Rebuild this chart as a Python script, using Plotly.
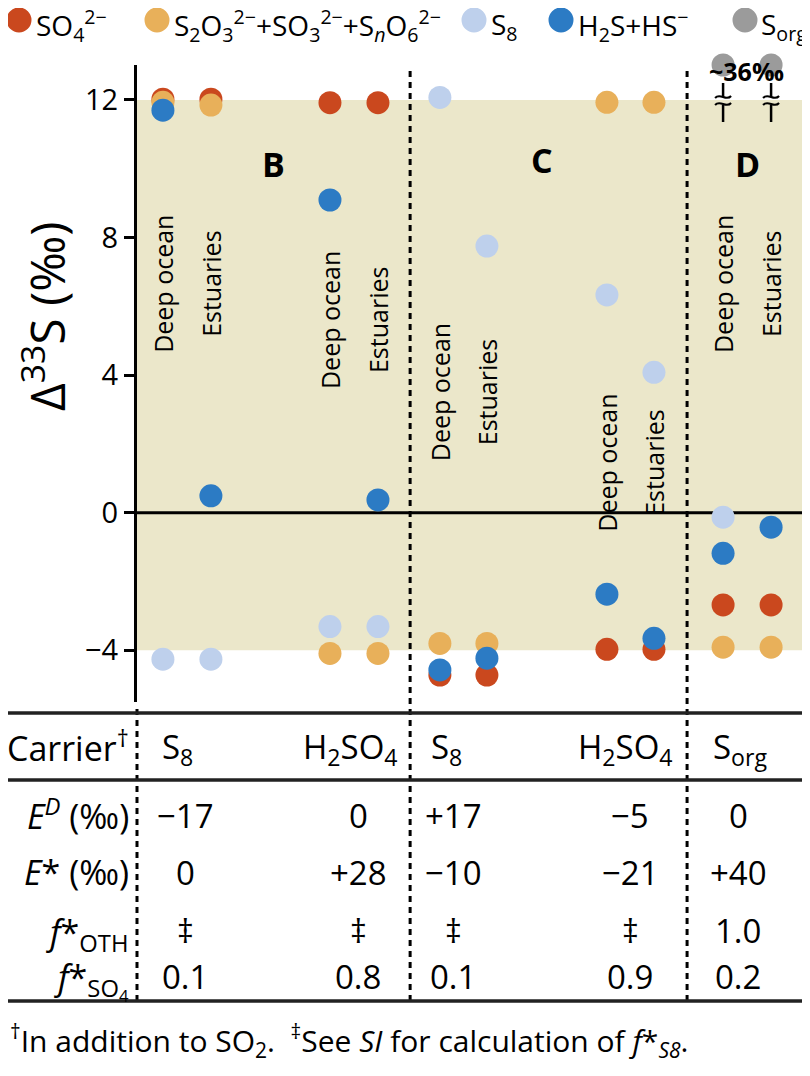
import plotly.graph_objects as go

# ---------------- data ----------------
species = ["SO4", "THIO", "S8", "H2S", "SORG"]
legend_labels = [
    "SO<sub>4</sub><sup>2−</sup>",
    "S<sub>2</sub>O<sub>3</sub><sup>2−</sup>+SO<sub>3</sub><sup>2−</sup>+S<sub><i>n</i></sub>O<sub>6</sub><sup>2−</sup>",
    "S<sub>8</sub>",
    "H<sub>2</sub>S+HS<sup>−</sup>",
    "S<sub>org</sub>",
]
colors = ["#CA481E", "#E8B05A", "#BED0EC", "#2C7BC4", "#9B9B9B"]

# site positions (x units) : pairs of Deep ocean / Estuaries for each scenario
site_x = [0.54, 1.54, 4.02, 5.02, 6.31, 7.29, 9.79, 10.77, 12.21, 13.21]
site_names = ["Deep ocean", "Estuaries"] * 5
site_label_y = [6.65, 6.65, 5.6, 5.6, 3.5, 3.5, 1.45, 1.45, 6.65, 6.65]

so4 = [12.02, 12.02, 11.92, 11.92, -4.72, -4.72, -3.97, -3.97, -2.68, -2.68]
thio = [11.93, 11.85, -4.09, -4.09, -3.80, -3.80, 11.93, 11.93, -3.91, -3.91]
s8 = [-4.26, -4.26, -3.31, -3.31, 12.07, 7.75, 6.33, 4.08, -0.13, None]
h2s = [11.70, 0.49, 9.09, 0.37, -4.57, -4.23, -2.37, -3.65, -1.18, -0.42]
sorg = [None] * 8 + [36, 36]
series = [so4, thio, s8, h2s, sorg]

panel_letters = ["B", "C", "D"]
panel_x = [2.85, 8.44, 12.71]
panel_y = [10.15, 10.25, 10.15]
divider_x = [5.69, 11.46]
shade_range = [-4, 12]

# table
carriers = ["S<sub>8</sub>", "H<sub>2</sub>SO<sub>4</sub>", "S<sub>8</sub>",
            "H<sub>2</sub>SO<sub>4</sub>", "S<sub>org</sub>"]
e_d = ["−17", "0", "+17", "−5", "0"]
e_star = ["0", "+28", "−10", "−21", "+40"]
f_oth = ["‡", "‡", "‡", "‡", "1.0"]
f_so4 = ["0.1", "0.8", "0.1", "0.9", "0.2"]
row_labels = ["Carrier<sup>†</sup>", "<i>E</i><sup><i>D</i></sup> (‰)", "<i>E</i>* (‰)",
              "<i>f</i>*<sub>OTH</sub>", "<i>f</i>*<sub>SO<sub>4</sub></sub>"]
footnote = ("<sup>†</sup>In addition to SO<sub>2</sub>.  <sup>‡</sup>See <i>SI</i> for "
            "calculation of <i>f</i>*<sub><i>S8</i></sub>.")

# ---------------- geometry helpers (screenshot pixel targets) ----------------
OFF = 8                           # page body margin
SW = 810                          # screenshot width
W, H = SW - OFF, 1068
L, T, B = 137, 65, 702            # plot area in screenshot pixels
PXU = 48.0                        # pixels per x unit
XMAX = (SW - L) / PXU
Y0PX, PX_PER_Y = 512.7, 34.4
YMIN = (Y0PX - B) / PX_PER_Y
YMAX = (Y0PX - T) / PX_PER_Y
FONT = "Open Sans, DejaVu Sans, sans-serif"


def pxx(p):   # screenshot pixel x -> paper x
    return (p - L) / (SW - L)


def pxy(p):   # screenshot pixel y -> paper y
    return (B - p) / (B - T)


def datx(x):  # data x -> paper x
    return x / XMAX


def ann(x, y, text, size, xanchor="center", yanchor="middle", angle=0,
        xref="paper", yref="paper"):
    return dict(x=x, y=y, xref=xref, yref=yref, text=text, showarrow=False,
                xanchor=xanchor, yanchor=yanchor, textangle=angle,
                font=dict(family=FONT, size=size, color="black"))


fig = go.Figure()

# points
for name, vals, col in zip(species, series, colors):
    ys = [None if v is None else min(v, YMAX) for v in vals]
    fig.add_trace(go.Scatter(x=site_x, y=ys, mode="markers", name=name,
                             marker=dict(size=23, color=col, line=dict(width=0)),
                             cliponaxis=False, showlegend=False, hoverinfo="skip"))

shapes = []
# shaded band
shapes.append(dict(type="rect", xref="paper", yref="y", x0=0, x1=1,
                   y0=shade_range[0], y1=shade_range[1],
                   fillcolor="#EBE7CA", line=dict(width=0), layer="below"))
# zero line
shapes.append(dict(type="line", xref="paper", yref="y", x0=0, x1=1, y0=0, y1=0,
                   line=dict(color="black", width=3), layer="below"))
# dashed dividers through the plot and table
for dx in divider_x:
    shapes.append(dict(type="line", xref="paper", yref="paper", x0=datx(dx), x1=datx(dx),
                       y0=pxy(1001), y1=pxy(68),
                       line=dict(color="black", width=3, dash="6px,5px")))
# dashed continuation of y axis in table
shapes.append(dict(type="line", xref="paper", yref="paper", x0=0, x1=0,
                   y0=pxy(1001), y1=pxy(708),
                   line=dict(color="black", width=3, dash="6px,5px")))
# table rules
for yy in [713, 780, 1001]:
    shapes.append(dict(type="line", xref="paper", yref="paper", x0=pxx(OFF), x1=1,
                       y0=pxy(yy), y1=pxy(yy), line=dict(color="#222", width=3.5)))

# axis break marks for S_org
for i, v in enumerate(sorg):
    if v is None:
        continue
    cx = L + site_x[i] * PXU
    shapes.append(dict(type="line", xref="paper", yref="paper", x0=pxx(cx), x1=pxx(cx),
                       y0=pxy(83), y1=pxy(97), line=dict(color="black", width=2.5)))
    shapes.append(dict(type="line", xref="paper", yref="paper", x0=pxx(cx), x1=pxx(cx),
                       y0=pxy(105), y1=pxy(122), line=dict(color="black", width=2.5)))
    for wy in [97, 104]:
        path = "M {},{} C {},{} {},{} {},{}".format(
            pxx(cx - 8), pxy(wy + 1), pxx(cx - 3), pxy(wy - 5),
            pxx(cx + 3), pxy(wy + 5), pxx(cx + 8), pxy(wy - 1))
        shapes.append(dict(type="path", xref="paper", yref="paper", path=path,
                           line=dict(color="black", width=2)))

annotations = []
# "~36‰" label
annotations.append(ann(pxx(746), pxy(71), "<b>~36‰</b>", 25))
# site labels
for x, nm, ly in zip(site_x, site_names, site_label_y):
    annotations.append(ann(x, ly, nm, 25, angle=-90, xref="x", yref="y"))
# panel letters
for t, x, y in zip(panel_letters, panel_x, panel_y):
    annotations.append(ann(x, y, "<b>" + t + "</b>", 34, xref="x", yref="y"))
# y-axis title
annotations.append(ann(pxx(44), pxy(316), "Δ<sup>33</sup>S (‰)", 48, angle=-90))

# legend (custom)
leg_cx = [19, 157, 474, 561, 745]
leg_tx = [34, 172, 489, 576, 759]
for cx, tx, lab, col in zip(leg_cx, leg_tx, legend_labels, colors):
    r = 12.5
    shapes.append(dict(type="circle", xref="paper", yref="paper",
                       x0=pxx(cx - r), x1=pxx(cx + r), y0=pxy(20 + r), y1=pxy(20 - r),
                       fillcolor=col, line=dict(width=0)))
    annotations.append(ann(pxx(tx), pxy(26), lab, 28, xanchor="left"))

# table
carrier_px = [177, 350, 446, 625, 740]
col_px = [185, 358, 453, 630, 738]
rows = [carriers, e_d, e_star, f_oth, f_so4]
row_py = [748, 815, 873, 930, 976]
label_py = [746, 814, 872, 934, 980]
for k, (rvals, ry, lab, ly) in enumerate(zip(rows, row_py, row_labels, label_py)):
    annotations.append(ann(pxx(131), pxy(ly), lab, 34, xanchor="right"))
    xs = carrier_px if k == 0 else col_px
    for cpx, v in zip(xs, rvals):
        annotations.append(ann(pxx(cpx), pxy(ry), v, 33))
# footnote
annotations.append(ann(pxx(OFF), pxy(1040), footnote, 30, xanchor="left"))

fig.update_layout(
    width=W, height=H,
    margin=dict(l=L - OFF, r=0, t=T - OFF, b=H - (B - OFF), autoexpand=False),
    paper_bgcolor="white", plot_bgcolor="rgba(0,0,0,0)",
    shapes=shapes, annotations=annotations, showlegend=False,
    font=dict(family=FONT, color="black"),
    xaxis=dict(visible=False, range=[0, XMAX], fixedrange=True),
    yaxis=dict(range=[YMIN, YMAX], tickvals=[-4, 0, 4, 8, 12],
               ticktext=["−4", "0", "4", "8", "12"], ticks="outside", ticklen=10,
               tickwidth=3, tickcolor="black", showline=True, linewidth=3,
               linecolor="black", showgrid=False, zeroline=False,
               tickfont=dict(family=FONT, size=29, color="black")),
)

fig.write_html("out.html")
